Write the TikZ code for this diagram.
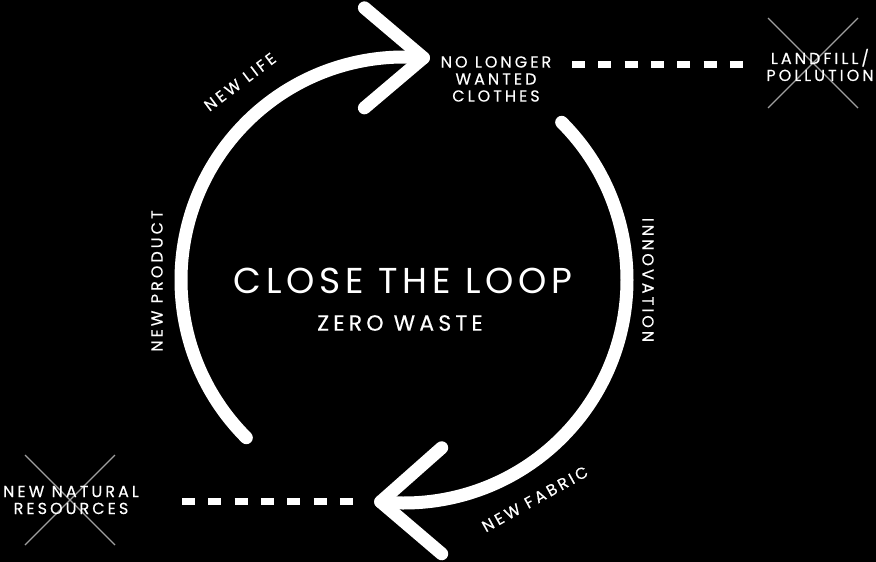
\documentclass[tikz,border=0pt]{standalone}
\usepackage{fontspec}
\usetikzlibrary{calc}
\setmainfont{Poppins}
\newfontfamily\lblfont[LetterSpace=19, FakeBold=0.3]{Poppins}
\newfontfamily\subfont[LetterSpace=19, FakeBold=0.3]{Poppins}
\newfontfamily\bigfont[LetterSpace=13.3]{Poppins}
\begin{document}
\begin{tikzpicture}[x=1pt,y=-1pt,
  loopline/.style={white, line width=13pt, line cap=round, line join=round},
  dashline/.style={white, line width=7pt, dash pattern=on 13pt off 13.3pt},
  crossline/.style={gray!75, line width=1.2pt},
  lbl/.style={text=white, inner sep=0pt, font=\lblfont\fontsize{16}{17}\selectfont, align=center},
  title/.style={text=white, inner sep=0pt, font=\bigfont\fontsize{36}{40}\selectfont},
  subtitle/.style={text=white, inner sep=0pt, font=\subfont\fontsize{22}{24}\selectfont}]
\fill[black] (0,0) rectangle (876,562);
\useasboundingbox (0,0) rectangle (876,562);
% circle geometry
\coordinate (c) at (404,280);
\coordinate (ltail) at ($(c)+(135:223)$);
\coordinate (ltip) at ($(c)+(275:223)$);
\coordinate (rtail) at ($(c)+(-45:223)$);
\coordinate (rtip) at ($(c)+(96:223)$);
% arcs
\draw[loopline] (ltail) arc[start angle=135, end angle=275, radius=223];
\draw[loopline] (rtail) arc[start angle=-45, end angle=96, radius=223];
% arrow heads
\draw[loopline] ($(ltip)+(-59,-50)$) -- (ltip) -- ($(ltip)+(-59,50)$);
\draw[loopline] ($(rtip)+(61,-54)$) -- (rtip) -- ($(rtip)+(61,52)$);
% dashed lines
\coordinate (d1a) at (572,64);
\coordinate (d1b) at (744,64);
\coordinate (d2a) at (182,501);
\coordinate (d2b) at (354,501);
\draw[dashline] (d1a) -- (d1b);
\draw[dashline] (d2a) -- (d2b);
% crosses
\draw[crossline] (768,18) -- (858,108);
\draw[crossline] (858,18) -- (768,108);
\draw[crossline] (25,455) -- (115,545);
\draw[crossline] (115,455) -- (25,545);
% labels
\node[lbl] (nlw) at (496,79) {NO LONGER\\WANTED\\CLOTHES};
\node[lbl] (land) at (820,65) {LANDFILL/\\POLLUTION};
\node[lbl] (nat) at (71,500) {NEW NATURAL\\RESOURCES};
\node[lbl, rotate=37] (life) at (240,82) {NEW LIFE};
\node[lbl, rotate=90] (prod) at (157,281) {NEW PRODUCT};
\node[lbl, rotate=-90] (innov) at (648,280) {INNOVATION};
\node[lbl, rotate=29] (fab) at (535,499) {NEW FABRIC};
\node[title] (close) at (403,281) {CLOSE THE LOOP};
\node[subtitle] (zero) at (400,323) {ZERO WASTE};
\end{tikzpicture}
\end{document}
